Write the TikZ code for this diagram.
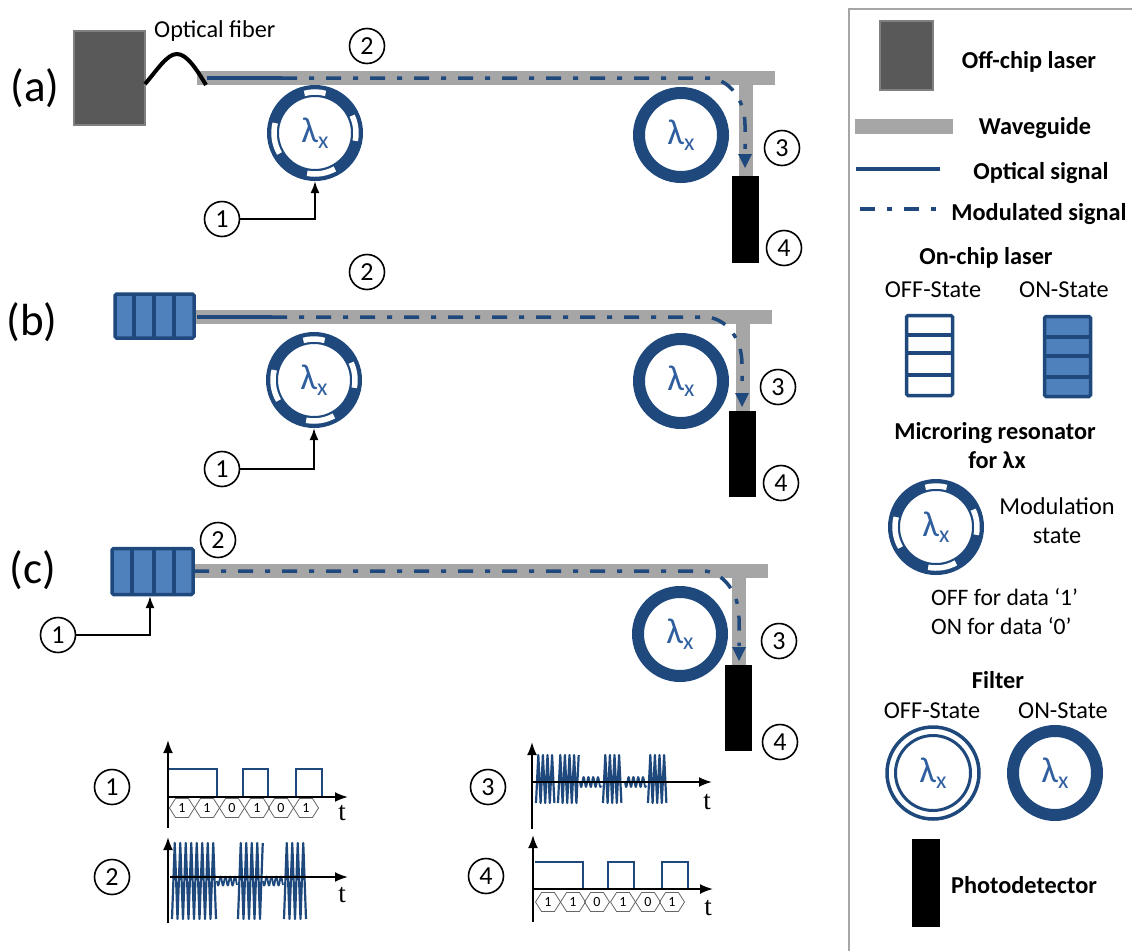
\documentclass[tikz,border=0pt]{standalone}
\usepackage{fontspec}
\setmainfont{Carlito}
\newfontfamily\tfont{Liberation Serif}
\usetikzlibrary{arrows.meta,calc,shapes.symbols}
\definecolor{mblue}{HTML}{1F497D}
\definecolor{lblue}{HTML}{2F5F9F}
\definecolor{fblue}{HTML}{4F81BD}
\definecolor{wg}{HTML}{A6A6A6}
\newcommand{\lamx}{\raisebox{-3pt}{\fontsize{36}{36}\selectfont λ\raisebox{-6pt}{\fontsize{24}{24}\selectfont x}}}
\newcommand{\fs}[1]{\fontsize{#1}{#1}\selectfont}
\newcommand{\gaps}[1]{\foreach \a/\b in {-105/-75,-25/11,61/101,150/194}{\draw[gapline] ($(#1)+(\a:41)$) arc[start angle=\a,end angle=\b,radius=41];}}
\newcommand{\wave}[5]{\draw[wavel,line width=1.8] plot[domain=#1:#2,samples=120,smooth] ({\x},{#3+#4*sin(360*(\x-#1)/#5)});}
\newcommand{\zig}[5]{\pgfmathtruncatemacro\nn{2*(#2-#1)/#5+1}\pgfmathsetmacro\xe{#1+(\nn-1)*#5/2}\draw[wavel] plot[domain=#1:\xe,samples=\nn] ({\x},{#3+#4*cos(360*(\x-#1)/#5)});}
\tikzset{
  x=1pt,y=-1pt,
  ring/.style={circle,draw=mblue,line width=12,minimum size=84,inner sep=0pt,text=lblue},
  ringthin/.style={circle,draw=mblue,line width=3.5,minimum size=92,inner sep=0pt},
  ringinner/.style={circle,draw=mblue,line width=3,minimum size=75,inner sep=0pt,text=lblue},
  gapline/.style={white,line width=5.5},
  guide/.style={wg,line width=14},
  sigsolid/.style={mblue,line width=3.5},
  sigmod/.style={mblue,line width=3.5,dash pattern=on 15pt off 12pt on 5pt off 12pt},
  offlaser/.style={fill=black!65,draw=black!50,line width=2,inner sep=0pt},
  onlaser/.style={fill=fblue,draw=mblue,line width=3.5,rounded corners=1.5,inner sep=0pt},
  offstate/.style={fill=white,draw=mblue,line width=3.5,rounded corners=1.5,inner sep=0pt},
  divline/.style={mblue,line width=3.5},
  detector/.style={fill=black,inner sep=0pt},
  num/.style={circle,draw=black,line width=1.6,minimum size=35,inner sep=0pt,font=\fs{26}},
  lead/.style={black,line width=2,-{Latex[length=12pt,width=9pt]}},
  axis/.style={black,line width=2,-{Latex[length=13pt,width=10pt]}},
  levels/.style={mblue,line width=2,line join=miter},
  wavel/.style={mblue,line width=2.2,line join=round},
  bit/.style={signal,signal to=east and west,signal pointer angle=115,draw=black!60,line width=.8,minimum width=25,minimum height=19,inner sep=0pt,font=\fs{14}},
  tlabel/.style={font=\fontsize{27}{27}\tfont,inner sep=0pt},
  lab/.style={font=\fs{45},inner sep=0pt},
  txt/.style={font=\fs{24.3},inner sep=0pt,align=center},
  txtb/.style={font=\fs{23.6},inner sep=0pt,anchor=west},
  btxt/.style={font=\fs{24.3}\bfseries,inner sep=0pt,align=center},
  headtri/.style={fill=mblue,draw=none}
}
\begin{document}
\begin{tikzpicture}
\useasboundingbox (0,0) rectangle (1132,951);
% ---------- (a)
\node[lab] (la) at (35,88) {(a)};
\node[offlaser,minimum width=71,minimum height=94] (lasa) at (109,77.5) {};
\node[txt,anchor=west] (fib) at (154,31) {Optical fiber};
\coordinate (wa0) at (197,78); \coordinate (wa1) at (775,78); \coordinate (wa2) at (746,78); \coordinate (wa3) at (746,176);
\draw[guide] (wa0) -- (wa1);
\draw[guide] (wa2) -- (wa3);
\draw[black,line width=4] (145,84) .. controls (158,69) and (167,54) .. (177,54) .. controls (187,54) and (197,70) .. (206,85);
\coordinate (sa0) at (207,78); \coordinate (sa1) at (282,78); \coordinate (sa2) at (710,78); \coordinate (sa3) at (745,125); \coordinate (sa4) at (745,156);
\draw[sigsolid] (sa0) -- (sa1);
\draw[sigmod] (sa1) -- (sa2) .. controls (730,80) and (745,100) .. (sa3) -- (sa4);
\draw[headtri] (738,154) -- (752,154) -- (745,168) -- cycle;
\node[ring] (rma) at (315,133) {\lamx};
\gaps{rma}
\node[ring] (rfa) at (681,135) {\lamx};
\node[detector,minimum width=27,minimum height=87] (da) at (745.5,219.5) {};
\node[num] (n1a) at (222,219) {1};
\node[num] (n2a) at (367,46) {2};
\node[num] (n3a) at (782,148) {3};
\node[num] (n4a) at (784,248) {4};
\draw[lead] (n1a) -| (rma.south);
% ---------- (b)
\node[lab] (lb) at (32,322) {(b)};
\coordinate (wb0) at (195,317); \coordinate (wb1) at (772,317); \coordinate (wb2) at (743,317); \coordinate (wb3) at (743,411);
\draw[guide] (wb0) -- (wb1);
\draw[guide] (wb2) -- (wb3);
\node[onlaser,minimum width=79,minimum height=44] (lasb) at (154.5,316) {};
\foreach \v in {134,154,174}{\draw[divline] (\v,294) -- (\v,338);}
\coordinate (sb0) at (197,317); \coordinate (sb1) at (272,317); \coordinate (sb2) at (707,317); \coordinate (sb3) at (742,364); \coordinate (sb4) at (742,392);
\draw[sigsolid] (sb0) -- (sb1);
\draw[sigmod] (sb1) -- (sb2) .. controls (727,319) and (742,339) .. (sb3) -- (sb4);
\draw[headtri] (735,393) -- (749,393) -- (742,407) -- cycle;
\node[ring] (rmb) at (314,380) {\lamx};
\gaps{rmb}
\node[ring] (rfb) at (681,381) {\lamx};
\node[detector,minimum width=27,minimum height=86] (db) at (742.5,454) {};
\node[num] (n1b) at (222,469) {1};
\node[num] (n2b) at (367,272) {2};
\node[num] (n3b) at (778,387) {3};
\node[num] (n4b) at (781,483) {4};
\draw[lead] (n1b) -| (rmb.south);
% ---------- (c)
\node[lab] (lc) at (33,570) {(c)};
\coordinate (wc0) at (194,571); \coordinate (wc1) at (768,571); \coordinate (wc2) at (739,571); \coordinate (wc3) at (739,665);
\draw[guide] (wc0) -- (wc1);
\draw[guide] (wc2) -- (wc3);
\coordinate (sc0) at (194,571); \coordinate (sc2) at (705,571); \coordinate (sc3) at (739,618); \coordinate (sc4) at (739,646);
\draw[sigmod] (sc0) -- (sc2) .. controls (724,573) and (739,593) .. (sc3) -- (sc4);
\draw[headtri] (732,647) -- (746,647) -- (739,661) -- cycle;
\node[onlaser,minimum width=81,minimum height=46] (lasc) at (152.5,571.5) {};
\foreach \v in {132,154,174}{\draw[divline] (\v,549) -- (\v,594);}
\node[ring] (rfc) at (680,634) {\lamx};
\node[detector,minimum width=27,minimum height=86] (dc) at (738.5,708) {};
\node[num] (n1c) at (58,635) {1};
\node[num] (n2c) at (218,540) {2};
\node[num] (n3c) at (779,641) {3};
\node[num] (n4c) at (780,742) {4};
\coordinate (lascin) at (150,596);
\draw[lead] (n1c) -| (lascin);
% ---------- graph 1
\node[num] (g1) at (112,787) {1};
\draw[levels] (168,769) -- (217,769) -- (217,797) -- (243,797) -- (243,769) -- (268,769) -- (268,797) -- (296,797) -- (296,769) -- (322,769) -- (322,797);
\coordinate (g1v0) at (168,828); \coordinate (g1v1) at (168,740); \coordinate (g1h0) at (168,797); \coordinate (g1h1) at (348,797);
\draw[axis] (g1v0) -- (g1v1);
\draw[axis] (g1h0) -- (g1h1);
\foreach \cx/\bv [count=\i] in {182/1,207/1,232/0,257/1,281/0,306/1}{\node[bit] (b1\i) at (\cx,808) {\bv};}
\node[tlabel] (t1) at (342,813) {t};
% ---------- graph 2
\node[num] (g2) at (112,877) {2};
\zig{172}{217}{881}{38}{5.5}
\wave{217}{237}{881}{4.5}{4.8}
\zig{238}{263}{881}{38}{5.5}
\wave{263}{283}{881}{4.5}{4.8}
\zig{284}{308}{881}{38}{5.5}
\coordinate (g2v0) at (168,923); \coordinate (g2v1) at (168,837); \coordinate (g2h0) at (170,877); \coordinate (g2h1) at (348,877);
\draw[axis] (g2v0) -- (g2v1);
\draw[axis] (g2h0) -- (g2h1);
\node[tlabel] (t2) at (342,895) {t};
% ---------- graph 3
\node[num] (g3) at (488,787) {3};
\zig{536}{555}{779}{24}{4.6}
\zig{558}{579}{779}{24}{4.6}
\wave{580}{601}{782}{5}{4.8}
\zig{603}{623}{779}{24}{4.6}
\wave{625}{646}{782}{5}{4.8}
\zig{648}{668}{779}{24}{4.6}
\coordinate (g3v0) at (532,829); \coordinate (g3v1) at (532,742); \coordinate (g3h0) at (532,782); \coordinate (g3h1) at (712,782);
\draw[axis] (g3v0) -- (g3v1);
\draw[axis] (g3h0) -- (g3h1);
\node[tlabel] (t3) at (707,802) {t};
% ---------- graph 4
\node[num] (g4) at (486,876) {4};
\draw[levels] (535,862) -- (583,862) -- (583,889) -- (608,889) -- (608,862) -- (634,862) -- (634,889) -- (662,889) -- (662,862) -- (688,862) -- (688,889);
\coordinate (g4v0) at (533,922); \coordinate (g4v1) at (533,835); \coordinate (g4h0) at (533,889); \coordinate (g4h1) at (713,889);
\draw[axis] (g4v0) -- (g4v1);
\draw[axis] (g4h0) -- (g4h1);
\foreach \cx/\bv [count=\i] in {548/1,573/1,597/0,623/1,648/0,672/1}{\node[bit] (b4\i) at (\cx,902) {\bv};}
\node[tlabel] (t4) at (708,908) {t};
% ---------- legend
\draw[wg,line width=2] (849,951) -- (849,9) -- (1132,9);
\node[offlaser,minimum width=53,minimum height=69] (kl) at (906,55) {};
\node[btxt] (kt1) at (1029,62) {Off-chip laser};
\coordinate (kw0) at (855,126.5); \coordinate (kw1) at (953,126.5);
\draw[wg,line width=15] (kw0) -- (kw1);
\node[btxt] (kt2) at (1035,128) {Waveguide};
\coordinate (ks0) at (856,169); \coordinate (ks1) at (940,169);
\draw[sigsolid] (ks0) -- (ks1);
\node[btxt] (kt3) at (1041,173) {Optical signal};
\coordinate (km0) at (860,209); \coordinate (km1) at (945,209);
\draw[sigmod] (km0) -- (km1);
\node[btxt] (kt4) at (1039,214) {Modulated signal};
\node[btxt] (kt5) at (986,258) {On-chip laser};
\node[txt] (kt6) at (933,290) {OFF-State};
\node[txt] (kt7) at (1064,290) {ON-State};
\node[offstate,minimum width=46,minimum height=80] (koff) at (929.5,355.5) {};
\foreach \v in {335,353,375}{\draw[divline] (906,\v) -- (953,\v);}
\node[onlaser,minimum width=46,minimum height=80] (kon) at (1067.5,356.5) {};
\foreach \v in {337,356,377}{\draw[divline] (1044,\v) -- (1091,\v);}
\node[btxt] (kt8) at (995,433) {Microring resonator};
\node[btxt] (kt9) at (997,460) {for λx};
\node[ring] (krm) at (936,527) {\lamx};
\gaps{krm}
\node[txt] (kt10) at (1057,506) {Modulation};
\node[txt] (kt11) at (1057,536) {state};
\node[txtb] (kt12) at (931,597) {OFF for data ‘1’};
\node[txtb] (kt13) at (931,626) {ON for data ‘0’};
\node[btxt] (kt14) at (998,680) {Filter};
\node[txt] (kt15) at (932,711) {OFF-State};
\node[txt] (kt16) at (1063,711) {ON-State};
\node[ringthin] (kf0) at (933,773) {};
\node[ringinner] (kf1) at (933,773) {\lamx};
\node[ring] (kf2) at (1055,773) {\lamx};
\node[detector,minimum width=28,minimum height=88] (kd) at (926,883) {};
\node[btxt] (kt17) at (1024,885) {Photodetector};
\end{tikzpicture}
\end{document}
